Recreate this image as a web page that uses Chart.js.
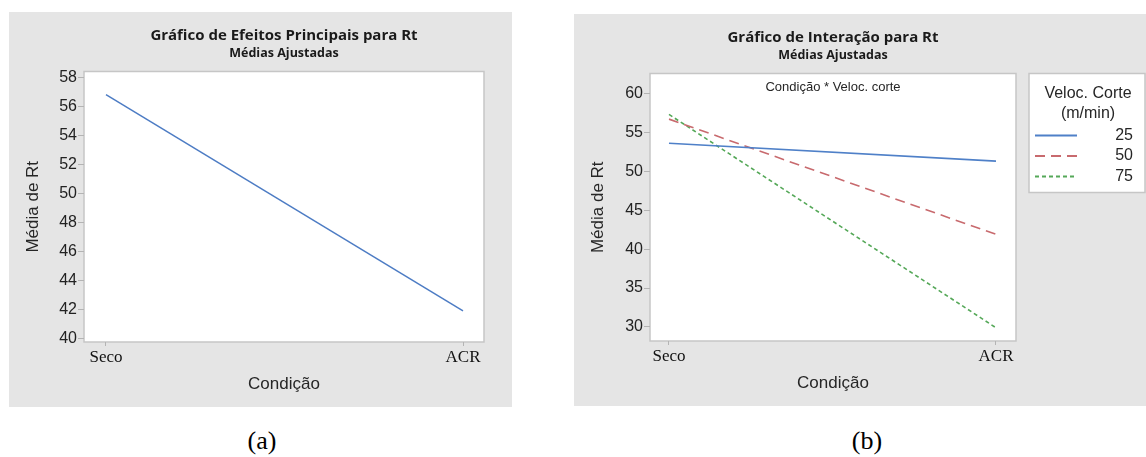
<!DOCTYPE html>
<html lang="pt">
<head>
<meta charset="utf-8">
<script src="https://cdn.jsdelivr.net/npm/chart.js@4.4.0/dist/chart.umd.min.js"></script>
<style>
  body { margin: 0; width: 1146px; height: 457px; background: #fff; position: relative; overflow: hidden; }
  .painel { position: absolute; background: #e5e5e5; }
  .painel canvas { position: absolute; left: 0; top: 0; }
  .rotulo { position: absolute; top: 426px; transform: translateX(-50%); font-family: "Liberation Serif", "Times New Roman", serif; font-size: 26px; color: #000; }
</style>
</head>
<body>
<div class="painel" style="left:9px;top:12px;width:503px;height:395px">
  <canvas id="grafico-efeitos" width="503" height="395"></canvas>
</div>
<div class="painel" style="left:574px;top:14px;width:572px;height:392px">
  <canvas id="grafico-interacao" width="572" height="392"></canvas>
</div>
<div class="rotulo" style="left:262px">(a)</div>
<div class="rotulo" style="left:867px">(b)</div>

<script>
// données
const condicoes = ["Seco", "ACR"];
const mediaRt = [56.8, 41.9];

const velocidades = ["25", "50", "75"];
const rtVel25 = [53.6, 51.3];
const rtVel50 = [56.7, 41.9];
const rtVel75 = [57.3, 29.9];

const ticksEfeitos = [40, 42, 44, 46, 48, 50, 52, 54, 56, 58];
const ticksInteracao = [30, 35, 40, 45, 50, 55, 60];

const tituloLegenda = ["Veloc. Corte", "(m/min)"];
const textoInterno = "Condição * Veloc. corte";

Chart.defaults.font.family = '"Liberation Sans", Arial, sans-serif';
Chart.defaults.color = "#262626";

const sans = '"Liberation Sans", Arial, sans-serif';
const titreFont = '"Open Sans", "Noto Sans", sans-serif';

// fond blanc + cadre de la zone de tracé
const fondArea = {
  id: "fondArea",
  beforeDraw(chart) {
    const { ctx, chartArea: a } = chart;
    ctx.save();
    ctx.fillStyle = "#fff";
    ctx.fillRect(a.left, a.top, a.width, a.height);
    ctx.strokeStyle = "#c6c6c6";
    ctx.lineWidth = 1.5;
    ctx.strokeRect(a.left, a.top, a.width, a.height);
    ctx.restore();
  }
};

function pontos(valores) {
  return valores.map((v, i) => ({ x: i, y: v }));
}

function options(titulo, ticksY, yMin, yMax, xMin, xMax, larguraY, padding) {
  return {
    responsive: false,
    animation: false,
    events: [],
    layout: { padding: padding },
    plugins: {
      legend: { display: false },
      tooltip: { enabled: false },
      title: {
        display: true,
        text: titulo,
        fullSize: false,
        color: "#1a1a1a",
        font: { family: titreFont, size: 15, weight: "bold" },
        padding: { top: 15, bottom: 0 }
      },
      subtitle: {
        display: true,
        text: "Médias Ajustadas",
        fullSize: false,
        color: "#1a1a1a",
        font: { family: titreFont, size: 12.5, weight: "bold" },
        padding: { top: 0.5, bottom: 11 }
      }
    },
    scales: {
      x: {
        type: "linear",
        min: xMin,
        max: xMax,
        afterBuildTicks: s => { s.ticks = condicoes.map((c, i) => ({ value: i })); },
        afterFit: s => { s.height = 65; },
        grid: { drawOnChartArea: false, tickLength: 4, color: "#b4b4b4" },
        border: { display: false },
        ticks: {
          callback: v => condicoes[v],
          padding: 1,
          maxRotation: 0,
          color: "#111",
          font: { family: '"Liberation Serif", "Times New Roman", serif', size: 17 }
        },
        title: {
          display: true,
          text: "Condição",
          color: "#262626",
          font: { family: sans, size: 17 },
          padding: { top: 0, bottom: 12.5 }
        }
      },
      y: {
        min: yMin,
        max: yMax,
        afterBuildTicks: s => { s.ticks = ticksY.map(v => ({ value: v })); },
        afterFit: s => { s.width = larguraY; },
        grid: { drawOnChartArea: false, tickLength: 6, color: "#b4b4b4" },
        border: { display: false },
        ticks: { padding: 1, color: "#222", font: { family: sans, size: 16 } },
        title: {
          display: true,
          text: "Média de Rt",
          color: "#262626",
          font: { family: sans, size: 17 },
          padding: { top: 14.5, bottom: 0 }
        }
      }
    }
  };
}

// (a) efeitos principais
new Chart(document.querySelector("#grafico-efeitos"), {
  type: "line",
  data: {
    datasets: [{
      label: "Rt",
      data: pontos(mediaRt),
      borderColor: "#4d7cc4",
      borderWidth: 1.5,
      pointRadius: 0,
      fill: false
    }]
  },
  options: options("Gráfico de Efeitos Principais para Rt", ticksEfeitos, 39.76, 58.4, -0.0616, 1.0588, 75,
    { left: 0, right: 28, top: 0, bottom: 0 }),
  plugins: [fondArea]
});

// légende + texte interne du graphique (b)
const legendaVelocidade = {
  id: "legendaVelocidade",
  afterDraw(chart) {
    const { ctx, chartArea: a } = chart;
    ctx.save();
    ctx.fillStyle = "#262626";
    ctx.font = "13px " + sans;
    ctx.textAlign = "center";
    ctx.textBaseline = "middle";
    ctx.fillText(textoInterno, (a.left + a.right) / 2, a.top + 14);

    const x0 = a.right + 13;
    const y0 = a.top;
    ctx.fillStyle = "#fff";
    ctx.fillRect(x0, y0, 116, 119);
    ctx.strokeStyle = "#c6c6c6";
    ctx.lineWidth = 1.5;
    ctx.strokeRect(x0, y0, 116, 119);

    ctx.fillStyle = "#262626";
    ctx.font = "16px " + sans;
    tituloLegenda.forEach((t, i) => ctx.fillText(t, x0 + 59, y0 + 20 + i * 20));

    chart.data.datasets.forEach((ds, i) => {
      const y = y0 + 62 + i * 20.5;
      ctx.strokeStyle = ds.borderColor;
      ctx.lineWidth = 2;
      ctx.setLineDash(ds.borderDash || []);
      ctx.beginPath();
      ctx.moveTo(x0 + 6, y);
      ctx.lineTo(x0 + 48, y);
      ctx.stroke();
      ctx.setLineDash([]);
      ctx.textAlign = "right";
      ctx.fillText(ds.label, x0 + 104, y);
    });
    ctx.restore();
  }
};

// (b) interação
new Chart(document.querySelector("#grafico-interacao"), {
  type: "line",
  data: {
    datasets: [
      { label: velocidades[0], data: pontos(rtVel25), borderColor: "#4f80c8", borderWidth: 1.6, pointRadius: 0 },
      { label: velocidades[1], data: pontos(rtVel50), borderColor: "#c86a6e", borderWidth: 1.6, borderDash: [10, 6], pointRadius: 0 },
      { label: velocidades[2], data: pontos(rtVel75), borderColor: "#55a858", borderWidth: 1.6, borderDash: [4, 3], pointRadius: 0 }
    ]
  },
  options: options("Gráfico de Interação para Rt", ticksInteracao, 28.2, 62.56, -0.0581, 1.0612, 76,
    { left: 0, right: 130, top: 0, bottom: 0 }),
  plugins: [fondArea, legendaVelocidade]
});
</script>
</body>
</html>
